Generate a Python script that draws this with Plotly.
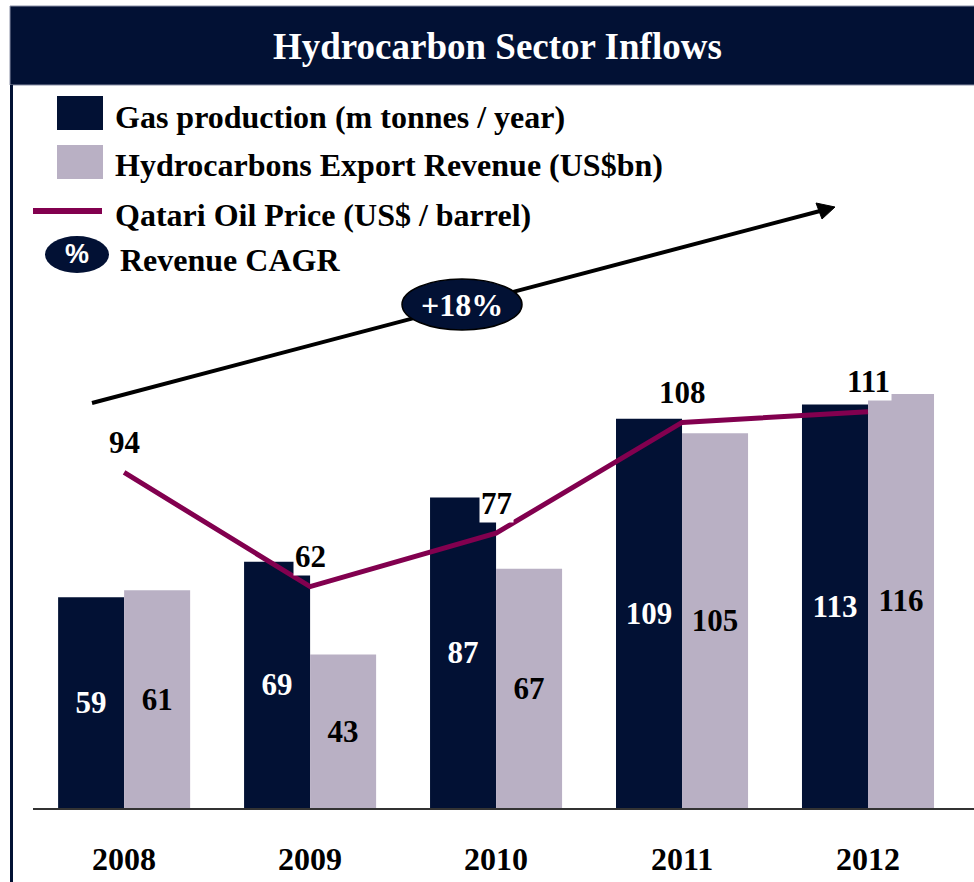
import plotly.graph_objects as go

# Chart data
years = ["2008", "2009", "2010", "2011", "2012"]
gas_production = [59, 69, 87, 109, 113]          # m tonnes / year
export_revenue = [61, 43, 67, 105, 116]          # US$bn
oil_price = [94, 62, 77, 108, 111]               # US$ / barrel
cagr_label = "+18%"

NAVY = "#021134"
LAVENDER = "#B9B0C4"
MAROON = "#82004F"
SERIF = "Liberation Serif"

W, H = 974, 882


def px(x):
    return x / W


def py(y):
    return 1 - y / H


fig = go.Figure()

fig.add_trace(go.Bar(
    x=years, y=gas_production, name="Gas production (m tonnes / year)",
    marker=dict(color=NAVY, line=dict(width=0)),
    text=[str(v) for v in gas_production], textposition="inside",
    insidetextanchor="middle", textangle=0,
    textfont=dict(family=SERIF, size=31, color="white", weight="bold"),
))
fig.add_trace(go.Bar(
    x=years, y=export_revenue, name="Hydrocarbons Export Revenue (US$bn)",
    marker=dict(color=LAVENDER, line=dict(width=0)),
    text=[str(v) for v in export_revenue], textposition="inside",
    insidetextanchor="middle", textangle=0,
    textfont=dict(family=SERIF, size=31, color="black", weight="bold"),
))
fig.add_trace(go.Scatter(
    x=years, y=oil_price, mode="lines", name="Qatari Oil Price (US$ / barrel)",
    line=dict(color=MAROON, width=5),
))

# Oil price labels on white boxes
for i, v in enumerate(oil_price):
    fig.add_annotation(
        x=i, y=v, xref="x", yref="y", text=f"<b>{v}</b>", showarrow=False,
        yshift=30, bgcolor="white", borderpad=1,
        xanchor="center", yanchor="middle",
        font=dict(family=SERIF, size=31, color="black"),
    )

shapes = []
# Title banner and frame
shapes.append(dict(type="rect", xref="paper", yref="paper",
                   x0=px(10), x1=px(W + 2), y0=py(85), y1=py(6),
                   fillcolor=NAVY, line=dict(color="#8a90a6", width=1), layer="above"))
shapes.append(dict(type="line", xref="paper", yref="paper",
                   x0=px(11.5), x1=px(11.5), y0=py(85), y1=py(H + 2),
                   line=dict(color=NAVY, width=3), layer="above"))

# Legend swatches
shapes.append(dict(type="rect", xref="paper", yref="paper",
                   x0=px(57), x1=px(103), y0=py(130), y1=py(96),
                   fillcolor=NAVY, line=dict(width=0), layer="above"))
shapes.append(dict(type="rect", xref="paper", yref="paper",
                   x0=px(57), x1=px(103), y0=py(179), y1=py(145),
                   fillcolor=LAVENDER, line=dict(width=0), layer="above"))
shapes.append(dict(type="line", xref="paper", yref="paper",
                   x0=px(33), x1=px(102), y0=py(211), y1=py(211),
                   line=dict(color=MAROON, width=6), layer="above"))
shapes.append(dict(type="circle", xref="paper", yref="paper",
                   x0=px(45), x1=px(109), y0=py(273), y1=py(236),
                   fillcolor=NAVY, line=dict(width=0), layer="above"))

# CAGR trend arrow
x_a, y_a, x_b, y_b = 92, 403, 820, 211
shapes.append(dict(type="line", xref="paper", yref="paper",
                   x0=px(x_a), y0=py(y_a), x1=px(x_b), y1=py(y_b),
                   line=dict(color="black", width=4), layer="above"))
shapes.append(dict(type="path", xref="paper", yref="paper",
                   path=(f"M {px(835)},{py(207)} L {px(816)},{py(203)} "
                         f"L {px(822)},{py(219)} Z"),
                   fillcolor="black", line=dict(color="black", width=1), layer="above"))
# CAGR bubble
shapes.append(dict(type="circle", xref="paper", yref="paper",
                   x0=px(402), x1=px(522), y0=py(330), y1=py(279),
                   fillcolor=NAVY, line=dict(color="black", width=1.5), layer="above"))
fig.update_layout(shapes=shapes)

# Title
fig.add_annotation(x=px(497), y=py(46), xref="paper", yref="paper",
                   text="Hydrocarbon Sector Inflows", showarrow=False,
                   xanchor="center", yanchor="middle",
                   font=dict(family=SERIF, size=37, color="white", weight="bold"))

# Legend texts
legend_items = [
    ("Gas production (m tonnes / year)", 113, 117),
    ("Hydrocarbons Export Revenue (US$bn)", 113, 165),
    ("Qatari Oil Price (US$ / barrel)", 113, 215),
    ("Revenue CAGR", 118, 260),
]
for txt, lx, ly in legend_items:
    fig.add_annotation(x=px(lx), y=py(ly), xref="paper", yref="paper",
                       text=txt, showarrow=False, xanchor="left", yanchor="middle",
                       font=dict(family=SERIF, size=32, color="black", weight="bold"))
fig.add_annotation(x=px(77), y=py(254), xref="paper", yref="paper",
                   text="%", showarrow=False, xanchor="center", yanchor="middle",
                   font=dict(family="Liberation Sans", size=27, color="white", weight="bold"))
fig.add_annotation(x=px(462), y=py(305), xref="paper", yref="paper",
                   text=cagr_label, showarrow=False, xanchor="center", yanchor="middle",
                   font=dict(family=SERIF, size=32, color="white", weight="bold"))

fig.update_layout(
    width=W, height=H,
    margin=dict(l=0, r=0, t=0, b=0),
    paper_bgcolor="white", plot_bgcolor="white",
    barmode="group", bargap=0.29, bargroupgap=0,
    showlegend=False,
    xaxis=dict(
        type="category", domain=[px(33), 1], range=[-0.49, 4.57],
        showline=True, linecolor="#333333", linewidth=2,
        showgrid=False, zeroline=False, ticks="",
        tickfont=dict(family=SERIF, size=32, color="black", weight="bold"),
        ticklabelstandoff=22, automargin=False, fixedrange=True,
    ),
    yaxis=dict(
        domain=[74 / H, 1], range=[0, 808 / 3.57],
        showticklabels=False, showline=False, ticks="",
        showgrid=False, zeroline=False, automargin=False, fixedrange=True,
    ),
)

fig.write_html("out.html")
